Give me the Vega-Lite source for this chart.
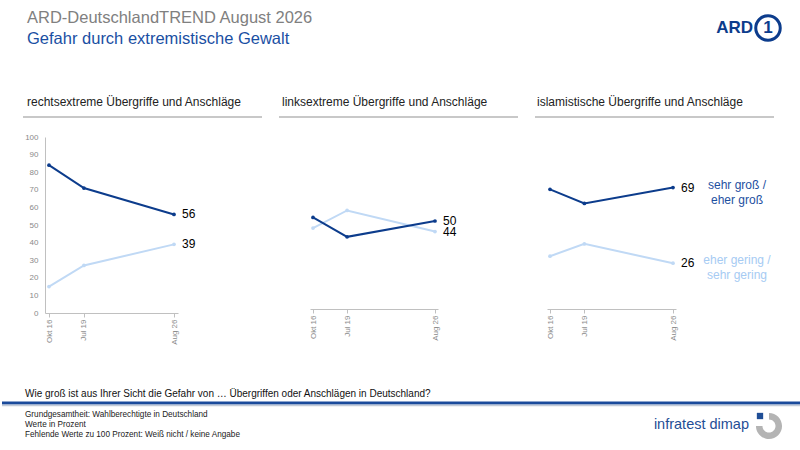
{
  "$schema": "https://vega.github.io/schema/vega-lite/v6.json",
  "padding": 0,
  "background": "white",
  "config": {
    "font": "Liberation Sans",
    "view": {"stroke": null},
    "title": {"font": "Liberation Sans"}
  },
  "datasets": {
    "umfrage": [
      {"thema": "rechts", "monat": "2016-10-01", "einschaetzung": "eher gering / sehr gering", "wert": 15},
      {"thema": "rechts", "monat": "2019-07-01", "einschaetzung": "eher gering / sehr gering", "wert": 27},
      {"thema": "rechts", "monat": "2026-08-01", "einschaetzung": "eher gering / sehr gering", "wert": 39},
      {"thema": "links", "monat": "2016-10-01", "einschaetzung": "eher gering / sehr gering", "wert": 46},
      {"thema": "links", "monat": "2019-07-01", "einschaetzung": "eher gering / sehr gering", "wert": 56},
      {"thema": "links", "monat": "2026-08-01", "einschaetzung": "eher gering / sehr gering", "wert": 44},
      {"thema": "islam", "monat": "2016-10-01", "einschaetzung": "eher gering / sehr gering", "wert": 30},
      {"thema": "islam", "monat": "2019-07-01", "einschaetzung": "eher gering / sehr gering", "wert": 37},
      {"thema": "islam", "monat": "2026-08-01", "einschaetzung": "eher gering / sehr gering", "wert": 26},
      {"thema": "rechts", "monat": "2016-10-01", "einschaetzung": "sehr groß / eher groß", "wert": 84},
      {"thema": "rechts", "monat": "2019-07-01", "einschaetzung": "sehr groß / eher groß", "wert": 71},
      {"thema": "rechts", "monat": "2026-08-01", "einschaetzung": "sehr groß / eher groß", "wert": 56},
      {"thema": "links", "monat": "2016-10-01", "einschaetzung": "sehr groß / eher groß", "wert": 52},
      {"thema": "links", "monat": "2019-07-01", "einschaetzung": "sehr groß / eher groß", "wert": 41},
      {"thema": "links", "monat": "2026-08-01", "einschaetzung": "sehr groß / eher groß", "wert": 50},
      {"thema": "islam", "monat": "2016-10-01", "einschaetzung": "sehr groß / eher groß", "wert": 68},
      {"thema": "islam", "monat": "2019-07-01", "einschaetzung": "sehr groß / eher groß", "wert": 60},
      {"thema": "islam", "monat": "2026-08-01", "einschaetzung": "sehr groß / eher groß", "wert": 69}
    ]
  },
  "spacing": 0,
  "vconcat": [
    {
      "width": 757,
      "height": 96,
      "data": {"values": [{}]},
      "encoding": {
        "x": {"type": "quantitative", "scale": {"domain": [0, 757]}, "axis": null},
        "y": {"type": "quantitative", "scale": {"domain": [0, 96], "reverse": true}, "axis": null}
      },
      "layer": [
        {
          "mark": {"type": "text", "align": "left", "baseline": "middle", "fontSize": 16.5, "color": "#808080"},
          "encoding": {"x": {"datum": -18}, "y": {"datum": 18}, "text": {"value": "ARD-DeutschlandTREND August 2026"}}
        },
        {
          "mark": {"type": "text", "align": "left", "baseline": "middle", "fontSize": 16.5, "color": "#1a4fa3"},
          "encoding": {"x": {"datum": -18}, "y": {"datum": 39}, "text": {"value": "Gefahr durch extremistische Gewalt"}}
        },
        {
          "mark": {"type": "text", "align": "right", "baseline": "middle", "fontSize": 17, "fontWeight": "bold", "color": "#0c3c8c"},
          "encoding": {"x": {"datum": 708}, "y": {"datum": 28}, "text": {"value": "ARD"}}
        },
        {
          "mark": {"type": "point", "shape": "circle", "filled": false, "size": 600, "strokeWidth": 3, "color": "#0c3c8c", "opacity": 1},
          "encoding": {"x": {"datum": 723}, "y": {"datum": 28}}
        },
        {
          "mark": {"type": "text", "align": "center", "baseline": "middle", "fontSize": 17, "fontWeight": "bold", "color": "#0c3c8c"},
          "encoding": {"x": {"datum": 723}, "y": {"datum": 28}, "text": {"value": "1"}}
        }
      ]
    },
    {
      "spacing": 15,
      "hconcat": [
        {
          "spacing": 15,
          "vconcat": [
            {
              "width": 217,
              "height": 1,
              "data": {"values": [{}]},
              "title": {"text": "rechtsextreme Übergriffe und Anschläge", "anchor": "start", "frame": "group", "fontSize": 12, "fontWeight": "normal", "color": "#222222", "offset": 7, "dx": -18},
              "mark": {"type": "rule", "color": "#c8c8c8", "strokeWidth": 2},
              "encoding": {
                "x": {"datum": -22, "type": "quantitative", "scale": {"domain": [0, 217]}, "axis": null},
                "x2": {"datum": 217},
                "y": {"datum": 0, "type": "quantitative", "scale": {"domain": [0, 1]}, "axis": null}
              }
            },
            {
              "width": 133,
              "height": 176,
              "data": {"name": "umfrage"},
              "transform": [{"filter": "datum.thema === 'rechts'"}],
              "encoding": {
                "x": {"field": "monat", "type": "temporal", "scale": {"padding": 4},
                  "axis": {"values": [{"year": 2016, "month": 10, "date": 1}, {"year": 2019, "month": 7, "date": 1}, {"year": 2026, "month": 8, "date": 1}],
                    "labelExpr": "replace(timeFormat(datum.value, '%b %y'), 'Oct', 'Okt')", "labelAngle": -90, "labelFontSize": 8, "labelColor": "#8a8a8a",
                    "domainColor": "#c0c0c0", "tickColor": "#c0c0c0", "tickSize": 4, "labelPadding": 2, "grid": false, "title": null}},
                "y": {"field": "wert", "type": "quantitative", "scale": {"domain": [0, 100], "nice": false},
                  "axis": {"values": [0, 10, 20, 30, 40, 50, 60, 70, 80, 90, 100], "labelFontSize": 8, "labelColor": "#8a8a8a", "domainColor": "#c0c0c0",
                    "ticks": false, "grid": false, "title": null, "labelPadding": 7}},
                "color": {"field": "einschaetzung", "type": "nominal", "legend": null,
                  "scale": {"domain": ["sehr groß / eher groß", "eher gering / sehr gering"], "range": ["#0c3c8c", "#c0d9f5"]}}
              },
              "layer": [
                {"mark": {"type": "line", "strokeWidth": 2, "point": {"filled": true, "size": 14}}},
                {
                  "transform": [{"filter": "year(datum.monat) === 2026"}],
                  "mark": {"type": "text", "align": "left", "baseline": "middle", "dx": 8, "fontSize": 12},
                  "encoding": {"text": {"field": "wert"}, "color": {"value": "#000000"}}
                }
              ]
            }
          ]
        },
        {
          "spacing": 15,
          "vconcat": [
            {
              "width": 208,
              "height": 1,
              "data": {"values": [{}]},
              "title": {"text": "linksextreme Übergriffe und Anschläge", "anchor": "start", "frame": "group", "fontSize": 12, "fontWeight": "normal", "color": "#222222", "offset": 7, "dx": -28},
              "mark": {"type": "rule", "color": "#c8c8c8", "strokeWidth": 2},
              "encoding": {
                "x": {"datum": -31, "type": "quantitative", "scale": {"domain": [0, 208]}, "axis": null},
                "x2": {"datum": 208},
                "y": {"datum": 0, "type": "quantitative", "scale": {"domain": [0, 1]}, "axis": null}
              }
            },
            {
              "width": 128,
              "height": 176,
              "data": {"name": "umfrage"},
              "transform": [{"filter": "datum.thema === 'links'"}],
              "encoding": {
                "x": {"field": "monat", "type": "temporal", "scale": {"padding": 3},
                  "axis": {"values": [{"year": 2016, "month": 10, "date": 1}, {"year": 2019, "month": 7, "date": 1}, {"year": 2026, "month": 8, "date": 1}],
                    "labelExpr": "replace(timeFormat(datum.value, '%b %y'), 'Oct', 'Okt')", "labelAngle": -90, "labelFontSize": 8, "labelColor": "#8a8a8a",
                    "domainColor": "#c0c0c0", "tickColor": "#c0c0c0", "tickSize": 4, "labelPadding": 2, "grid": false, "title": null}},
                "y": {"field": "wert", "type": "quantitative", "scale": {"domain": [0, 100], "nice": false}, "axis": null},
                "color": {"field": "einschaetzung", "type": "nominal", "legend": null,
                  "scale": {"domain": ["sehr groß / eher groß", "eher gering / sehr gering"], "range": ["#0c3c8c", "#c0d9f5"]}}
              },
              "layer": [
                {"mark": {"type": "line", "strokeWidth": 2, "point": {"filled": true, "size": 14}}},
                {
                  "transform": [{"filter": "year(datum.monat) === 2026"}],
                  "mark": {"type": "text", "align": "left", "baseline": "middle", "dx": 8, "fontSize": 12},
                  "encoding": {"text": {"field": "wert"}, "color": {"value": "#000000"}}
                }
              ]
            }
          ]
        },
        {
          "spacing": 15,
          "vconcat": [
            {
              "width": 227,
              "height": 1,
              "data": {"values": [{}]},
              "title": {"text": "islamistische Übergriffe und Anschläge", "anchor": "start", "frame": "group", "fontSize": 12, "fontWeight": "normal", "color": "#222222", "offset": 7, "dx": -10},
              "mark": {"type": "rule", "color": "#c8c8c8", "strokeWidth": 2},
              "encoding": {
                "x": {"datum": -12, "type": "quantitative", "scale": {"domain": [0, 227]}, "axis": null},
                "x2": {"datum": 227},
                "y": {"datum": 0, "type": "quantitative", "scale": {"domain": [0, 1]}, "axis": null}
              }
            },
            {
              "width": 129,
              "height": 176,
              "data": {"name": "umfrage"},
              "transform": [{"filter": "datum.thema === 'islam'"}],
              "encoding": {
                "x": {"field": "monat", "type": "temporal", "scale": {"padding": 3},
                  "axis": {"values": [{"year": 2016, "month": 10, "date": 1}, {"year": 2019, "month": 7, "date": 1}, {"year": 2026, "month": 8, "date": 1}],
                    "labelExpr": "replace(timeFormat(datum.value, '%b %y'), 'Oct', 'Okt')", "labelAngle": -90, "labelFontSize": 8, "labelColor": "#8a8a8a",
                    "domainColor": "#c0c0c0", "tickColor": "#c0c0c0", "tickSize": 4, "labelPadding": 2, "grid": false, "title": null}},
                "y": {"field": "wert", "type": "quantitative", "scale": {"domain": [0, 100], "nice": false}, "axis": null},
                "color": {"field": "einschaetzung", "type": "nominal", "legend": null,
                  "scale": {"domain": ["sehr groß / eher groß", "eher gering / sehr gering"], "range": ["#0c3c8c", "#c0d9f5"]}}
              },
              "layer": [
                {"mark": {"type": "line", "strokeWidth": 2, "point": {"filled": true, "size": 14}}},
                {
                  "transform": [{"filter": "year(datum.monat) === 2026"}],
                  "mark": {"type": "text", "align": "left", "baseline": "middle", "dx": 8, "fontSize": 12},
                  "encoding": {"text": {"field": "wert"}, "color": {"value": "#000000"}}
                },
                {
                  "transform": [{"filter": "year(datum.monat) === 2026 && datum.einschaetzung === 'sehr groß / eher groß'"}],
                  "mark": {"type": "text", "align": "center", "baseline": "middle", "dx": 64, "dy": -3, "fontSize": 12, "lineHeight": 15},
                  "encoding": {"text": {"value": ["sehr groß /", "eher groß"]}, "color": {"value": "#1d4f9f"}}
                },
                {
                  "transform": [{"filter": "year(datum.monat) === 2026 && datum.einschaetzung === 'eher gering / sehr gering'"}],
                  "mark": {"type": "text", "align": "center", "baseline": "middle", "dx": 64, "dy": -3, "fontSize": 12, "lineHeight": 15},
                  "encoding": {"text": {"value": ["eher gering /", "sehr gering"]}, "color": {"value": "#a6cbf3"}}
                }
              ]
            }
          ]
        }
      ]
    },
    {
      "width": 757,
      "height": 100,
      "data": {"values": [{}]},
      "encoding": {
        "x": {"type": "quantitative", "scale": {"domain": [0, 757]}, "axis": null},
        "y": {"type": "quantitative", "scale": {"domain": [0, 100], "reverse": true}, "axis": null}
      },
      "layer": [
        {
          "mark": {"type": "text", "align": "left", "baseline": "middle", "fontSize": 10, "color": "#111111"},
          "encoding": {"x": {"datum": -20}, "y": {"datum": 49}, "text": {"value": "Wie groß ist aus Ihrer Sicht die Gefahr von … Übergriffen oder Anschlägen in Deutschland?"}}
        },
        {
          "mark": {"type": "rule", "color": "#1a4a9b", "strokeWidth": 3},
          "encoding": {"x": {"datum": -43}, "x2": {"datum": 757}, "y": {"datum": 58}}
        },
        {
          "mark": {"type": "rule", "color": "#c3cbd8", "strokeWidth": 1.5},
          "encoding": {"x": {"datum": -43}, "x2": {"datum": 757}, "y": {"datum": 60.5}}
        },
        {
          "mark": {"type": "text", "align": "left", "baseline": "middle", "fontSize": 8.2, "color": "#222222", "lineHeight": 10},
          "encoding": {"x": {"datum": -20}, "y": {"datum": 70}, "text": {"value": ["Grundgesamtheit: Wahlberechtigte in Deutschland", "Werte in Prozent", "Fehlende Werte zu 100 Prozent: Weiß nicht / keine Angabe"]}}
        },
        {
          "mark": {"type": "text", "align": "right", "baseline": "middle", "fontSize": 14.5, "color": "#1f4e96"},
          "encoding": {"x": {"datum": 704}, "y": {"datum": 80}, "text": {"value": "infratest dimap"}}
        },
        {
          "mark": {"type": "point", "filled": true, "size": 680, "color": "#b4b4b4", "opacity": 1, "shape": "M0,-1A1,1,0,1,1,-1,0L-0.5,0A0.5,0.5,0,1,0,0,-0.5Z"},
          "encoding": {"x": {"datum": 724}, "y": {"datum": 81}}
        },
        {
          "mark": {"type": "point", "filled": true, "size": 40, "color": "#1f4e96", "opacity": 1, "shape": "square"},
          "encoding": {"x": {"datum": 715}, "y": {"datum": 71}}
        }
      ]
    }
  ]
}
